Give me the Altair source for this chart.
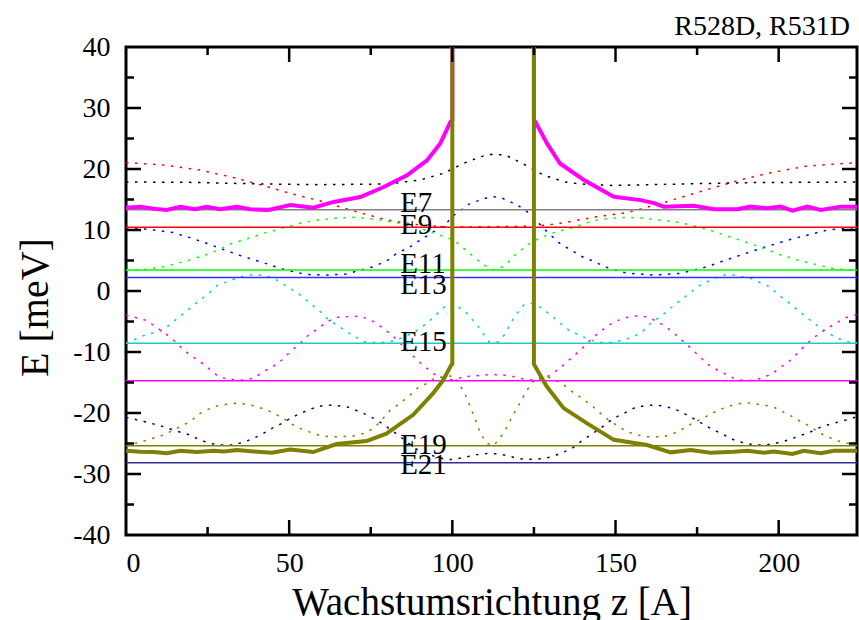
import altair as alt
import pandas as pd

# ---------------- data ----------------
level_names = ["E7", "E9", "E11", "E13", "E15", "E17", "E19", "E21"]
level_E = [13.3, 10.44, 3.44, 2.2, -8.58, -14.7, -25.36, -28.15]
level_colors = ["#808080", "#ff0000", "#00ff00", "#3030ff", "#20c8c8", "#ff00ff", "#808000", "#303090"]

label_names = ["E7", "E9", "E11", "E13", "E15", "E19", "E21"]
label_z = [84, 84, 84, 84, 84, 84, 84]
label_E = [14.43, 10.82, 4.43, 0.95, -8.36, -25.25, -28.52]

# dotted curves
red_z = [0, 11.5, 22.7, 34, 42.1, 50.3, 58.5, 69.7, 80, 88.1, 96.3, 104, 113.7, 121, 129, 134.2, 144.4, 153.6, 164.8, 176.1, 187.3, 197.6, 208.8, 224]
red_E = [21.04, 20.66, 19.84, 18.47, 17.27, 16.0, 14.92, 13.12, 11.64, 10.93, 10.55, 10.5, 10.55, 10.6, 10.8, 11.2, 12.19, 12.84, 14.5, 16.3, 18.09, 19.4, 20.5, 21.04]

black_z = [0, 18.6, 42.1, 59.5, 80, 90.2, 97.3, 103.5, 108.6, 112, 116, 117.8, 122.9, 128, 134.2, 139.3, 149.5, 170, 190.4, 224]
black_E = [17.87, 17.82, 17.54, 17.43, 17.54, 18.2, 19.3, 20.93, 22.0, 22.4, 22.3, 21.9, 20.5, 19.0, 17.9, 17.54, 17.3, 17.54, 17.76, 17.87]

blue_z = [0, 8.4, 14.5, 19.6, 24.7, 28.8, 36, 42.1, 47.2, 52.4, 56.4, 61.6, 67.7, 71.8, 75.9, 80, 83, 87.1, 90.2, 94.3, 97.9, 100.4, 105.5, 111.7, 114.7, 119.9, 122.9, 126, 129, 133.1, 136.7, 139.3, 142.3, 147.5, 153.6, 161.8, 170, 178.1, 186.3, 195.5, 203.7, 215, 224]
blue_E = [10.44, 10.0, 9.57, 8.75, 7.82, 7.0, 5.63, 4.65, 3.72, 3.01, 2.68, 2.62, 2.79, 3.44, 3.99, 4.97, 6.18, 7.27, 8.36, 9.73, 10.93, 12.4, 14.37, 15.47, 15.36, 14.1, 13.0, 11.37, 9.73, 7.71, 6.62, 5.74, 5.08, 3.83, 2.9, 2.62, 2.9, 3.99, 5.52, 7.16, 8.47, 10.0, 10.44]

green_z = [0, 6.3, 11.5, 16.6, 19.6, 22.7, 25.8, 28.8, 31.9, 36, 39.1, 42.1, 45.2, 48.3, 53.4, 58.5, 63.6, 69.7, 73.8, 77.9, 83, 88.1, 93.3, 97.3, 100.4, 103.5, 106.5, 109.6, 112.5, 114.7, 117.3, 119.8, 122.9, 126, 129, 131.1, 136.2, 139.3, 142.3, 145.4, 148.5, 153.6, 158.7, 162.8, 167.9, 173, 178.1, 184.3, 189.4, 195.5, 200.6, 205.7, 210.8, 216, 221.1, 224]
green_E = [3.45, 3.55, 3.99, 4.65, 5.08, 5.63, 6.18, 6.83, 7.71, 8.36, 8.91, 9.46, 9.89, 10.38, 11.09, 11.64, 11.91, 12.08, 11.91, 11.64, 11.2, 10.55, 9.73, 8.91, 8.36, 7.0, 5.63, 4.26, 3.45, 3.72, 4.81, 6.18, 7.54, 8.47, 9.18, 9.57, 10.28, 10.82, 11.37, 11.75, 11.91, 12.08, 11.91, 11.64, 11.37, 10.82, 10.11, 9.02, 8.09, 7.0, 5.9, 5.08, 4.43, 3.72, 3.45, 3.45]

cyan_z = [0, 5.8, 11.5, 14.5, 19.6, 22.7, 25.3, 27.8, 30.9, 37, 42.1, 45.2, 50.3, 53.4, 56.4, 59, 61.6, 64.6, 67.7, 72.8, 77.9, 81, 85, 88.5, 92.2, 97.9, 100.4, 104.5, 107.6, 111.2, 114.2, 116.3, 117.8, 119.8, 121.9, 124.6, 127.5, 130.1, 133.1, 135.7, 138.8, 142.3, 146.9, 152.6, 155.6, 158.2, 161.3, 163.8, 166.4, 169.4, 172, 175.1, 180.2, 183.2, 186.3, 191.4, 197.1, 200.1, 202.7, 205.2, 208.3, 210.9, 213.9, 217, 219.5, 222.1, 224]
cyan_E = [-8.58, -7.22, -6.4, -5.03, -2.84, -1.48, -0.39, 0.85, 1.53, 2.62, 2.62, 2.08, 0.44, -0.66, -2.03, -3.12, -4.48, -5.58, -6.67, -8.31, -8.47, -8.31, -7.6, -6.7, -5.3, -2.46, -2.03, -3.66, -5.58, -8.31, -8.31, -6.94, -5.3, -3.66, -2.3, -2.0, -2.84, -3.94, -5.3, -6.4, -7.22, -8.04, -8.58, -8.04, -7.49, -6.67, -5.03, -4.21, -3.01, -1.75, -0.66, 0.71, 2.08, 2.62, 2.62, 2.08, 0.71, -0.66, -1.75, -2.84, -4.21, -5.3, -6.4, -7.49, -8.04, -8.47, -8.47]

magenta_z = [0, 5.8, 8.4, 14, 16.6, 19.6, 22.7, 25.3, 27.8, 30.9, 36, 39.1, 42.1, 45.2, 47.8, 50.3, 53.4, 55.9, 59, 61.6, 64.6, 69.7, 72.8, 75.9, 78.9, 82, 86.1, 89.2, 92.2, 94.8, 97.3, 100.4, 103.5, 106.5, 109.6, 112.5, 115.5, 118.5, 121.5, 124.6, 127.7, 130.2, 134, 136.7, 139.5, 142.3, 144.9, 148, 150.5, 153.6, 156.1, 159.2, 161.8, 164.6, 167.4, 170, 172.8, 175.6, 178.1, 181.2, 184.3, 186.8, 189.9, 192.4, 195.3, 198.1, 200.6, 203.7, 206.2, 208.8, 211.4, 214.4, 217.5, 220, 224]
magenta_E = [-3.94, -4.76, -5.58, -7.76, -9.13, -10.5, -11.59, -12.68, -13.77, -14.48, -14.59, -14.32, -13.23, -12.3, -11.31, -9.95, -8.58, -7.22, -6.12, -5.03, -4.32, -4.1, -4.32, -5.03, -6.12, -7.49, -9.67, -11.31, -12.68, -13.77, -14.32, -14.59, -14.05, -13.94, -13.77, -13.7, -13.77, -14.0, -14.4, -14.59, -14.32, -13.77, -12.13, -10.88, -9.57, -8.04, -6.83, -5.58, -4.87, -4.32, -4.1, -4.21, -4.76, -5.58, -6.67, -7.93, -9.24, -10.66, -11.97, -12.95, -13.77, -14.48, -14.7, -14.59, -14.21, -13.5, -12.52, -11.31, -9.95, -8.58, -7.38, -6.29, -5.3, -4.48, -3.8]

olive_z = [0, 5.8, 11.5, 16.6, 19.6, 22.7, 25.8, 28.8, 33.4, 37, 40.1, 43.2, 45.7, 48.3, 50.3, 53.4, 55.9, 59, 62.1, 65.6, 69.7, 72.8, 75.9, 77.9, 81, 84, 87.1, 89.2, 92.2, 94.8, 97.9, 100.4, 102.5, 104, 105.5, 107.1, 108.6, 110.6, 112.7, 115.2, 116.8, 118.3, 119.8, 122.9, 125.5, 128.5, 131.6, 134.2, 136.7, 139.8, 142.9, 145.4, 147.9, 151, 153.6, 156.7, 159.7, 164.8, 167.9, 171, 173.5, 176.1, 179.1, 181.7, 184.3, 187.3, 190.4, 193, 195.5, 198.6, 201.1, 204.2, 206.8, 209.8, 212.4, 214.9, 218, 221.1, 224]
olive_E = [-25.36, -24.54, -23.61, -22.24, -21.42, -20.06, -19.24, -18.69, -18.42, -18.53, -18.97, -19.51, -20.17, -20.88, -21.7, -22.52, -23.06, -23.61, -23.88, -23.88, -23.77, -23.34, -22.52, -21.42, -19.51, -18.42, -17.05, -15.96, -15.14, -14.21, -14.05, -13.88, -15.58, -17.05, -18.97, -21.15, -23.34, -24.98, -25.36, -23.61, -22.24, -20.6, -19.24, -16.23, -14.32, -13.94, -14.59, -15.41, -16.51, -17.6, -18.86, -20.06, -21.15, -22.24, -23.06, -23.61, -23.88, -23.88, -23.34, -22.52, -21.7, -21.04, -20.17, -19.51, -18.97, -18.53, -18.31, -18.53, -18.69, -19.07, -19.78, -20.6, -21.42, -22.24, -23.23, -23.88, -24.54, -24.98, -25.25]

navy_z = [0, 5.8, 11.5, 14.5, 19.6, 22.7, 25.8, 28.8, 32.9, 36.5, 39.1, 42.1, 44.7, 47.8, 50.3, 53.4, 58.5, 61.6, 64.6, 67.7, 70.2, 72.8, 75.9, 78.4, 81, 85.1, 88.5, 91.5, 94.8, 97.9, 100.4, 104.5, 108.6, 111.7, 114.2, 117.3, 119.8, 122.9, 125.5, 128.5, 131.1, 133.7, 136.7, 139.3, 142.3, 145.4, 148, 150.5, 153.6, 156.1, 159.2, 161.8, 164.6, 167.4, 170, 172.8, 175.6, 178.1, 181.2, 184.3, 186.8, 189.9, 192.4, 195.5, 198.1, 201.1, 203.7, 206.2, 209.3, 211.9, 214.9, 217.5, 220.6, 224]
navy_E = [-20.71, -21.42, -22.24, -22.79, -23.61, -24.43, -24.98, -25.25, -25.25, -24.7, -24.16, -23.34, -22.52, -21.7, -20.88, -20.06, -18.97, -18.69, -18.8, -18.97, -19.51, -20.06, -20.88, -21.7, -22.7, -24.3, -25.8, -26.5, -27.16, -27.6, -27.65, -27.16, -26.72, -26.62, -26.72, -27.05, -27.43, -27.6, -27.6, -27.43, -27.05, -26.5, -25.8, -24.7, -23.61, -22.52, -21.42, -20.6, -19.78, -19.07, -18.8, -18.69, -18.86, -19.24, -19.78, -20.6, -21.42, -22.24, -23.06, -23.88, -24.54, -24.98, -25.25, -25.25, -25.08, -24.7, -24.32, -23.77, -23.23, -22.52, -21.97, -21.59, -21.15, -20.6]

dotted_names = ["red", "black", "blue", "green", "cyan", "magenta", "olive", "navy"]
dotted_colors = ["#ff0000", "#000000", "#0000ff", "#00ff00", "#00cccc", "#ff00ff", "#808000", "#000080"]
dotted_z = [red_z, black_z, blue_z, green_z, cyan_z, magenta_z, olive_z, navy_z]
dotted_E = [red_E, black_E, blue_E, green_E, cyan_E, magenta_E, olive_E, navy_E]

# thick curves (left and right branches)
mag_left_z = [0, 4.3, 8.5, 12.5, 16.6, 21.2, 24.7, 28.8, 34, 38, 43.7, 50.3, 57.4, 63.6, 71.8, 78.8, 86.1, 92.2, 96.3, 99.4, 100, 100]
mag_left_E = [13.66, 13.8, 13.5, 13.28, 13.8, 13.4, 13.8, 13.4, 13.8, 13.4, 13.3, 14.1, 13.66, 14.6, 15.4, 17.0, 18.97, 21.4, 24.2, 27.7, 28.0, 40]
mag_right_z = [125, 125, 125.5, 129, 133, 140.3, 149.5, 157.7, 161.8, 164.8, 174, 180.2, 187.3, 191.4, 196.5, 200.6, 204.2, 208.8, 212.9, 219, 224]
mag_right_E = [40, 28.0, 27.7, 24.2, 20.9, 18.2, 15.46, 14.9, 14.4, 13.83, 13.99, 13.39, 13.39, 13.83, 13.56, 13.83, 13.17, 13.83, 13.28, 13.83, 13.83]

oli_left_z = [0, 4.3, 8.5, 12.5, 16.6, 21.7, 26.8, 30, 34, 39.1, 44.7, 50.3, 57.4, 64.5, 73.7, 79.8, 88, 94.1, 97.2, 99.7, 100, 100]
oli_left_E = [-26.18, -26.34, -26.4, -26.6, -26.18, -26.4, -26.18, -26.3, -26.07, -26.3, -26.5, -25.97, -26.4, -25.08, -24.6, -23.4, -20.3, -16.8, -14.6, -12.1, -12.0, 40]
oli_right_z = [125, 125, 129, 134.1, 141.3, 149.5, 159.7, 166.9, 173, 179.1, 186.3, 190.4, 195.5, 198.5, 204.2, 207.7, 212.9, 217, 224]
oli_right_E = [40, -12.0, -15.7, -19.2, -21.7, -24.4, -25.25, -26.45, -26.07, -26.5, -26.34, -26.18, -26.5, -26.3, -26.7, -26.18, -26.6, -26.18, -26.18]

thick_branches = [
    ("mag_left", "#ff00ff", mag_left_z, mag_left_E),
    ("mag_right", "#ff00ff", mag_right_z, mag_right_E),
    ("oli_left", "#808000", oli_left_z, oli_left_E),
    ("oli_right", "#808000", oli_right_z, oli_right_E),
]

x_major = [50, 100, 150, 200]
x_minor = [25, 75, 125, 175]
y_major = [-30, -20, -10, 0, 10, 20, 30]
y_minor = [-35, -25, -15, -5, 5, 15, 25, 35]

corner_title = "R528D, R531D"

# ---------------- tables ----------------
W, H = 731, 488
FONT = "Liberation Serif"

rows = []
for name, col, zs, es in zip(dotted_names, dotted_colors, dotted_z, dotted_E):
    for i, (z, e) in enumerate(zip(zs, es)):
        rows.append({"series": name, "color": col, "i": i, "z": z, "E": e})
dotted_df = pd.DataFrame(rows)

rows = []
for name, col, zs, es in thick_branches:
    for i, (z, e) in enumerate(zip(zs, es)):
        rows.append({"series": name, "color": col, "i": i, "z": z, "E": e})
thick_df = pd.DataFrame(rows)
mag_df = thick_df[thick_df.series.str.startswith("mag")]
oli_df = thick_df[thick_df.series.str.startswith("oli")]

levels_df = pd.DataFrame({"name": level_names, "E": level_E, "color": level_colors})
labels_df = pd.DataFrame({"name": label_names, "z": label_z, "E": label_E})

XT = "Wachstumsrichtung z  [A]"
YT = "E [meV]"
X = alt.X("z:Q", scale=alt.Scale(domain=[0, 224], nice=False, zero=False),
          axis=alt.Axis(values=[0, 50, 100, 150, 200], ticks=False, tickSize=0, domain=False, grid=False,
                        labelFont=FONT, labelFontSize=28, labelPadding=14, labelColor="black",
                        titleFont=FONT, titleFontSize=39,
                        titleFontWeight="normal", titleColor="black", titlePadding=6),
          title=XT)
Y = alt.Y("E:Q", scale=alt.Scale(domain=[-40, 40], nice=False, zero=False),
          axis=alt.Axis(values=[-40, -30, -20, -10, 0, 10, 20, 30, 40], ticks=False, tickSize=0,
                        domain=False, grid=False, labelExpr="'' + datum.value",
                        labelFont=FONT, labelFontSize=28, labelPadding=16, labelColor="black",
                        titleFont=FONT, titleFontSize=40, titleFontWeight="normal",
                        titleColor="black", titleAngle=270, titleX=-79, titleY=260,
                        titleAlign="center", titleBaseline="alphabetic"),
          title=YT)

dotted = alt.Chart(dotted_df).mark_line(strokeDash=[2.5, 6.5], strokeWidth=1.5).encode(
    x=X, y=Y, color=alt.Color("color:N", scale=None), detail="series:N", order="i:Q")

levels = alt.Chart(levels_df).mark_rule(strokeWidth=1.5).encode(
    y=Y, color=alt.Color("color:N", scale=None))

labels = alt.Chart(labels_df).mark_text(font=FONT, fontSize=29, align="left", baseline="middle",
                                        color="black").encode(x=X, y=Y, text="name:N")

mag = alt.Chart(mag_df).mark_line(strokeWidth=4, color="#ff00ff").encode(
    x=X, y=Y, detail="series:N", order="i:Q")
oli = alt.Chart(oli_df).mark_line(strokeWidth=4, color="#808000").encode(
    x=X, y=Y, detail="series:N", order="i:Q")


def yticks(vals, length):
    df = pd.DataFrame({"E": vals})
    left = alt.Chart(df).mark_rule(color="black", strokeWidth=2.5).encode(
        y=Y, x=alt.value(0), x2=alt.value(length))
    right = alt.Chart(df).mark_rule(color="black", strokeWidth=2.5).encode(
        y=Y, x=alt.value(W - length), x2=alt.value(W))
    return [left, right]


def xticks(vals, length):
    df = pd.DataFrame({"z": vals})
    bottom = alt.Chart(df).mark_rule(color="black", strokeWidth=2.5).encode(
        x=X, y=alt.value(H), y2=alt.value(H - length))
    top = alt.Chart(df).mark_rule(color="black", strokeWidth=2.5).encode(
        x=X, y=alt.value(0), y2=alt.value(length))
    return [bottom, top]


tick_layers = yticks(y_major, 15) + yticks(y_minor, 8) + xticks(x_major, 15) + xticks(x_minor, 8)

title_df = pd.DataFrame({"t": [corner_title]})
corner = alt.Chart(title_df).mark_text(font=FONT, fontSize=28, align="right", baseline="alphabetic",
                                       color="black").encode(
    x=alt.value(W - 7), y=alt.value(-12), text="t:N")

chart = alt.layer(dotted, levels, labels, mag, oli, *tick_layers, corner).properties(
    width=W, height=H,
    padding={"left": 126, "top": 47, "right": 2, "bottom": 85},
    autosize="none",
    background="white",
).configure_view(stroke="black", strokeWidth=3)

chart.save("out.html", embed_options={"renderer": "svg", "actions": False})
